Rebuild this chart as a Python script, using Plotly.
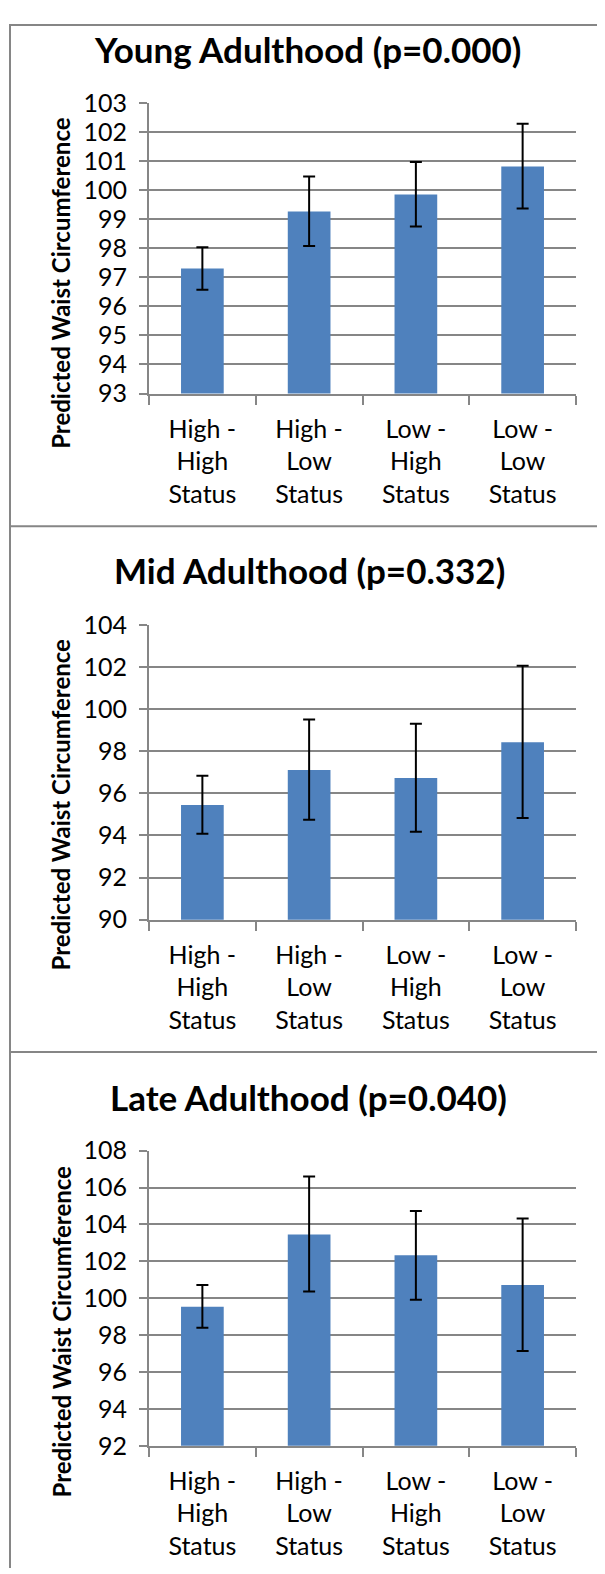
import plotly.graph_objects as go

W, H = 605, 1574

categories = ["High -<br>High<br>Status", "High -<br>Low<br>Status",
              "Low -<br>High<br>Status", "Low -<br>Low<br>Status"]

titles = ["Young Adulthood (p=0.000)", "Mid Adulthood (p=0.332)", "Late Adulthood (p=0.040)"]
y_title = "Predicted Waist Circumference"

young_vals = [97.30, 99.27, 99.85, 100.82]
young_err_hi = [0.74, 1.20, 1.12, 1.47]
young_err_lo = [0.73, 1.19, 1.10, 1.45]

mid_vals = [95.44, 97.11, 96.73, 98.43]
mid_err_hi = [1.40, 2.40, 2.57, 3.63]
mid_err_lo = [1.36, 2.37, 2.56, 3.60]

late_vals = [99.53, 103.45, 102.33, 100.72]
late_err_hi = [1.19, 3.14, 2.40, 3.60]
late_err_lo = [1.13, 3.09, 2.41, 3.58]

y_ranges = [(93, 103, 1), (90, 104, 2), (92, 108, 2)]

# layout positions in figure pixels (top, bottom)
plot_y_px = [(80.6, 376.7), (612.5, 913.1), (1148.5, 1449.4)]
plot_x_px = (141, 568)
title_px = [(299, 25.3), (301, 557.1), (300, 1093.9)]
ytitle_px = [(53, 263.9), (53, 795.7), (53, 1332.9)]
frame_y_px = [1, 512, 1048]
frame_x_px = 2

BAR = "#4F81BD"
GRID = "#868686"
FONT = "Lato"

series = [(young_vals, young_err_hi, young_err_lo),
          (mid_vals, mid_err_hi, mid_err_lo),
          (late_vals, late_err_hi, late_err_lo)]

fig = go.Figure()
layout = dict(
    width=W, height=H, margin=dict(l=0, r=0, t=0, b=0),
    paper_bgcolor="white", plot_bgcolor="white", showlegend=False,
    bargap=0.6, font=dict(family=FONT, color="black"),
)
annotations = []
shapes = []

for i, (vals, ehi, elo) in enumerate(series):
    n = i + 1
    xa = "x" if n == 1 else f"x{n}"
    ya = "y" if n == 1 else f"y{n}"
    fig.add_trace(go.Bar(
        x=categories, y=vals, xaxis=xa, yaxis=ya,
        marker=dict(color=BAR, line=dict(width=0)),
        error_y=dict(type="data", symmetric=False, array=ehi, arrayminus=elo,
                     color="black", thickness=2, width=6),
    ))
    top, bot = plot_y_px[i]
    lo, hi, dt = y_ranges[i]
    layout[f"xaxis{'' if n == 1 else n}"] = dict(
        domain=[plot_x_px[0] / W, plot_x_px[1] / W], anchor=ya,
        showline=True, linecolor=GRID, linewidth=2,
        ticks="outside", ticklen=9, tickcolor=GRID, tickwidth=2,
        tickson="boundaries", showgrid=False,
        tickfont=dict(family=FONT, size=25, color="black"),
        ticklabelstandoff=12,
    )
    layout[f"yaxis{'' if n == 1 else n}"] = dict(
        domain=[1 - bot / H, 1 - top / H], anchor=xa,
        range=[lo, hi], dtick=dt, tick0=lo,
        showline=True, linecolor=GRID, linewidth=2,
        ticks="outside", ticklen=8, tickcolor=GRID, tickwidth=2,
        showgrid=True, gridcolor=GRID, gridwidth=2, zeroline=False,
        tickfont=dict(family=FONT, size=25, color="black"),
        ticklabelstandoff=7,
    )
    tx, ty = title_px[i]
    annotations.append(dict(
        text=f"<b>{titles[i]}</b>", x=tx / W, y=1 - ty / H, xref="paper", yref="paper",
        xanchor="center", yanchor="middle", showarrow=False,
        font=dict(family=FONT, size=35, color="black"),
    ))
    ax_, ay_ = ytitle_px[i]
    annotations.append(dict(
        text=f"<b>{y_title}</b>", x=ax_ / W, y=1 - ay_ / H, xref="paper", yref="paper",
        xanchor="center", yanchor="middle", showarrow=False, textangle=-90,
        font=dict(family=FONT, size=24, color="black"),
    ))

# panel frame lines
for yy in frame_y_px:
    shapes.append(dict(type="line", xref="paper", yref="paper",
                       x0=(frame_x_px - 1) / W, x1=1, y0=1 - yy / H, y1=1 - yy / H,
                       line=dict(color=GRID, width=2)))
shapes.append(dict(type="line", xref="paper", yref="paper",
                   x0=frame_x_px / W, x1=frame_x_px / W, y0=0, y1=1,
                   line=dict(color=GRID, width=2)))

layout["annotations"] = annotations
layout["shapes"] = shapes
fig.update_layout(**layout)
fig.write_html("out.html")
